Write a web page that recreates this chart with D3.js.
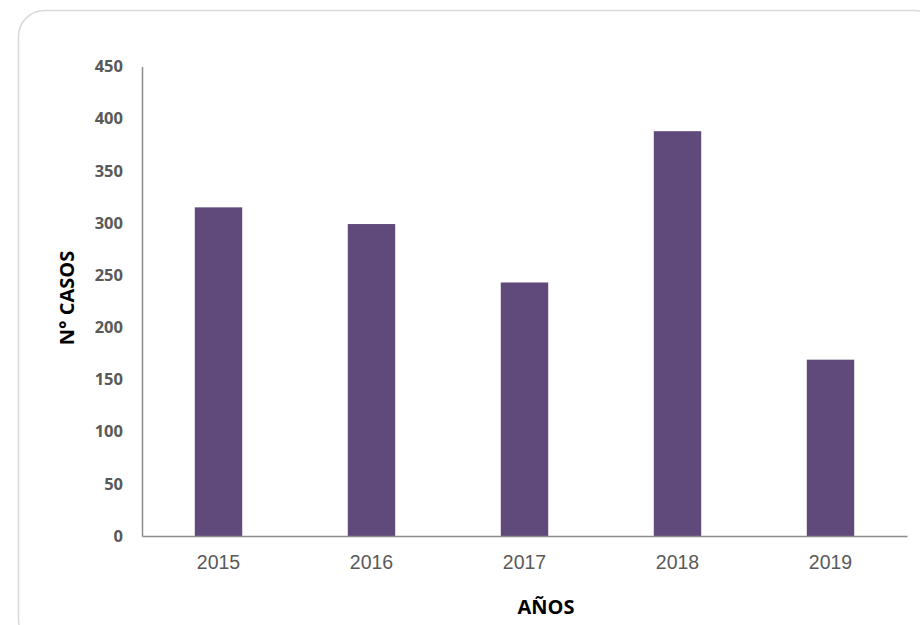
<!DOCTYPE html>
<html>
<head>
<meta charset="utf-8">
<script src="https://cdn.jsdelivr.net/npm/d3@7"></script>
<style>
  html, body { margin: 0; padding: 0; background: #fff; }
  svg { display: block; }
</style>
</head>
<body>
<svg id="chart" width="920" height="625"></svg>
<script>
const years = ["2015", "2016", "2017", "2018", "2019"];
const casos = [315, 299, 243, 388, 169];
const yTicks = [0, 50, 100, 150, 200, 250, 300, 350, 400, 450];
const xTitle = "AÑOS";
const yTitle = "N° CASOS";

const svg = d3.select("#chart");
const W = 920, H = 625;
const margin = { left: 142, right: 13, top: 66.5, bottom: 89 };

svg.append("rect")
  .attr("x", 18.5).attr("y", 10.5)
  .attr("width", 922).attr("height", 635)
  .attr("rx", 26).attr("ry", 26)
  .attr("fill", "#fff")
  .attr("stroke", "#d9d9d9")
  .attr("stroke-width", 1.5);

const x = d3.scaleBand()
  .domain(years)
  .range([margin.left, W - margin.right])
  .paddingInner(0.69)
  .paddingOuter(0.345);

const y = d3.scaleLinear()
  .domain([0, 450])
  .range([H - margin.bottom, margin.top]);

svg.append("g")
  .selectAll("rect")
  .data(years)
  .join("rect")
  .attr("x", d => x(d))
  .attr("width", x.bandwidth())
  .attr("y", (d, i) => y(casos[i]))
  .attr("height", (d, i) => y(0) - y(casos[i]))
  .attr("fill", "#604a7b");

// Y axis
const yAxis = svg.append("g")
  .attr("transform", `translate(${margin.left},0)`)
  .call(d3.axisLeft(y).tickValues(yTicks).tickSize(0).tickPadding(19));
yAxis.select(".domain").attr("stroke", "#8c8c8c").attr("stroke-width", 1.5);
yAxis.selectAll("text")
  .attr("font-family", "'Open Sans', sans-serif")
  .attr("font-weight", "bold")
  .attr("font-size", "16.5px")
  .attr("fill", "#595959");

// X axis
const xAxis = svg.append("g")
  .attr("transform", `translate(0,${y(0)})`)
  .call(d3.axisBottom(x).tickSize(0).tickPadding(19));
xAxis.select(".domain").attr("stroke", "#8c8c8c").attr("stroke-width", 1.5);
xAxis.selectAll("text")
  .attr("font-family", "'Liberation Sans', Arial, sans-serif")
  .attr("font-size", "19.5px")
  .attr("fill", "#595959");

// Titles
svg.append("text")
  .attr("x", 546).attr("y", 614)
  .attr("text-anchor", "middle")
  .attr("font-family", "'Open Sans', sans-serif")
  .attr("font-weight", "bold")
  .attr("font-size", "20px")
  .attr("fill", "#000")
  .text(xTitle);

svg.append("text")
  .attr("transform", "translate(74,298) rotate(-90)")
  .attr("text-anchor", "middle")
  .attr("font-family", "'Open Sans', sans-serif")
  .attr("font-weight", "bold")
  .attr("font-size", "20px")
  .attr("fill", "#000")
  .text(yTitle);
</script>
</body>
</html>
